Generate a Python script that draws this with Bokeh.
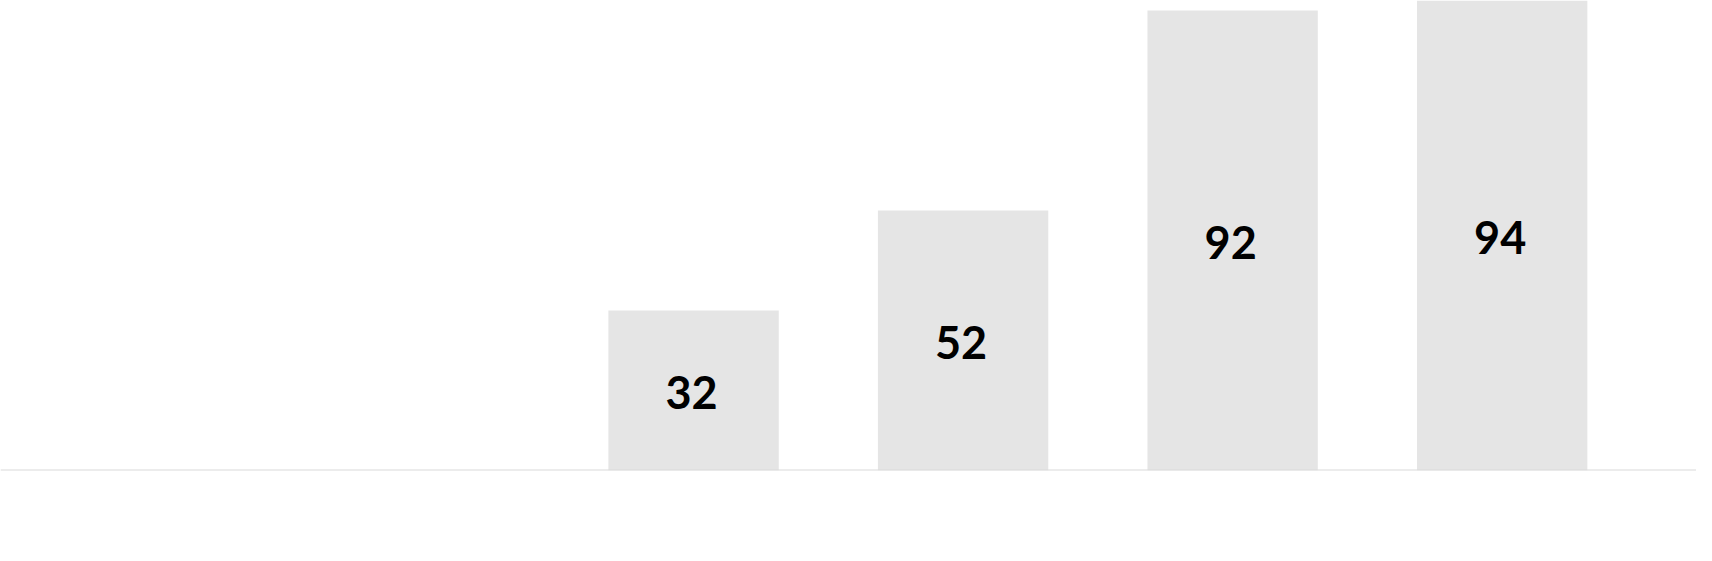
from bokeh.plotting import figure
from bokeh.models import ColumnDataSource, Range1d, Span
from bokeh.core.properties import value
from bokeh.embed import file_html
from bokeh.resources import INLINE

# Data
categories = ["1", "2", "3", "4", "5", "6"]
values = [None, None, 32, 52, 92, 94]

xs, tops, mids, labels = [], [], [], []
for i, v in enumerate(values):
    if v is None:
        continue
    xs.append(i)
    tops.append(v)
    mids.append(v / 2)
    labels.append(str(v))

source = ColumnDataSource(dict(x=xs, top=tops, mid=mids, label=labels))

p = figure(width=1696, height=545, output_backend="svg", toolbar_location=None,
           x_range=Range1d(-0.5714, 5.721),
           y_range=Range1d(0, max(v for v in values if v is not None)),
           min_border=0, min_border_left=0, min_border_right=0, min_border_top=0,
           min_border_bottom=75)

p.vbar(x="x", top="top", bottom=0, width=0.632, source=source,
       fill_color="#e5e5e5", line_color=None)

p.text(x="x", y="mid", text="label", source=source,
       text_align="center", text_baseline="middle", y_offset=2, x_offset=-2,
       text_font=value("Lato"), text_font_style="bold",
       text_font_size="45px", text_color="#000000")

p.yaxis.visible = False
p.xaxis.visible = False
p.xgrid.grid_line_color = None
p.ygrid.grid_line_color = None
p.outline_line_color = None
p.background_fill_color = "white"
p.border_fill_color = "white"

# baseline
p.add_layout(Span(location=0, dimension="width", line_color="#d9d9d9", line_width=2))

open("out.html", "w").write(file_html(p, INLINE))
